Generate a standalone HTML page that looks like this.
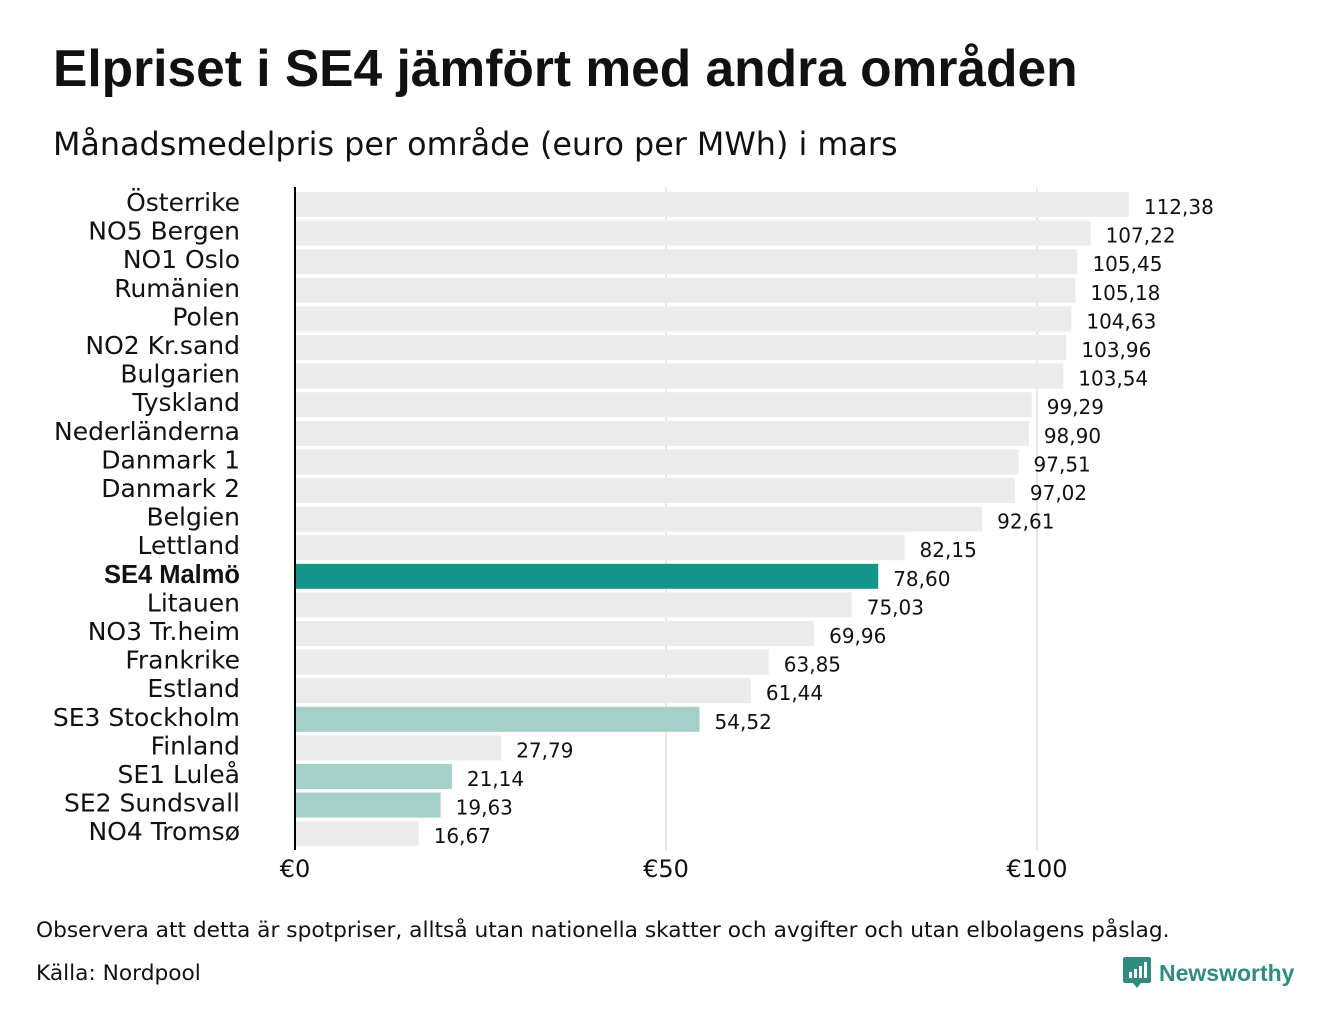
<!DOCTYPE html>
<html><head><meta charset="utf-8"><style>
body{margin:0;width:1340px;height:1020px;background:#fff;overflow:hidden;font-family:"DejaVu Sans","Liberation Sans",sans-serif;color:#111}
#title{position:absolute;left:53px;top:38px;font-size:51.5px;font-weight:bold;margin:0;font-family:"Liberation Sans",sans-serif}
#sub{position:absolute;left:53px;top:126px;font-size:31.8px}
.note{position:absolute;left:36px;font-size:21.7px}
</style></head><body>
<h1 id="title">Elpriset i SE4 jämfört med andra områden</h1>
<div id="sub">Månadsmedelpris per område (euro per MWh) i mars</div>
<svg id="chart" width="1340" height="900" style="position:absolute;left:0;top:0"></svg>
<div class="note" style="top:918px">Observera att detta är spotpriser, alltså utan nationella skatter och avgifter och utan elbolagens påslag.</div>
<div class="note" style="top:961px">Källa: Nordpool</div>
<div style="position:absolute;left:1123px;top:957px;display:flex;align-items:center">
<svg width="28" height="32" viewBox="0 0 28 32"><path d="M2 0h24a2 2 0 0 1 2 2v22a2 2 0 0 1-2 2h-8l-4 5-4-5H2a2 2 0 0 1-2-2V2a2 2 0 0 1 2-2z" fill="#2f8c80"/><rect x="6" y="15" width="3" height="6" fill="#fff"/><rect x="11" y="12" width="3" height="9" fill="#fff"/><rect x="16" y="9" width="3" height="12" fill="#fff"/><rect x="21" y="5" width="3" height="16" fill="#fff"/></svg>
<span style="font-size:23px;font-weight:bold;color:#2f8c80;margin-left:8px;font-family:'Liberation Sans',sans-serif">Newsworthy</span></div>
<script>
const categories=["Österrike","NO5 Bergen","NO1 Oslo","Rumänien","Polen","NO2 Kr.sand","Bulgarien","Tyskland","Nederländerna","Danmark 1","Danmark 2","Belgien","Lettland","SE4 Malmö","Litauen","NO3 Tr.heim","Frankrike","Estland","SE3 Stockholm","Finland","SE1 Luleå","SE2 Sundsvall","NO4 Tromsø"];
const values=[112.38,107.22,105.45,105.18,104.63,103.96,103.54,99.29,98.90,97.51,97.02,92.61,82.15,78.60,75.03,69.96,63.85,61.44,54.52,27.79,21.14,19.63,16.67];
const ticks=[0,50,100];
const tickLabels=["€0","€50","€100"];
const ns="http://www.w3.org/2000/svg",svg=document.getElementById('chart');
const x=v=>295+v*7.42, y=i=>192+i*28.6;
function mk(t,a){const e=document.createElementNS(ns,t);for(const k in a)e.setAttribute(k,a[k]);svg.appendChild(e);return e;}
ticks.forEach((t,i)=>{
 if(t>0){const g=mk('line',{x1:x(t),x2:x(t),y1:187,y2:850,stroke:'#cfcfcf','stroke-width':1});
 
 }
 const l=mk('text',{x:x(t),y:877,'text-anchor':'middle','font-size':24,fill:'#111'});l.textContent=tickLabels[i];
 
 
});
categories.forEach((c,i)=>{
 const se=c.startsWith('SE');
 const col=c==='SE4 Malmö'?'#14958a':(se?'#a5cfc9':'#ebebeb');
 const r=mk('rect',{x:296,y:y(i),width:x(values[i])-296,height:25,fill:col});
 
 
 const bold=c==='SE4 Malmö';
 const t=mk('text',{x:240,y:y(i)+19,'text-anchor':'end','font-size':bold?25.5:25,fill:'#111','font-weight':bold?'bold':'normal','font-family':bold?'Liberation Sans, sans-serif':'DejaVu Sans, sans-serif'});
 t.textContent=c;
 
 
 const v=mk('text',{x:x(values[i])+15,y:y(i)+22,'font-size':20,fill:'#111'});
 v.textContent=values[i].toFixed(2).replace('.',',');
 
 
});
const ax=mk('line',{x1:295,x2:295,y1:187,y2:850,stroke:'#000','stroke-width':2});


</script>
</body></html>
